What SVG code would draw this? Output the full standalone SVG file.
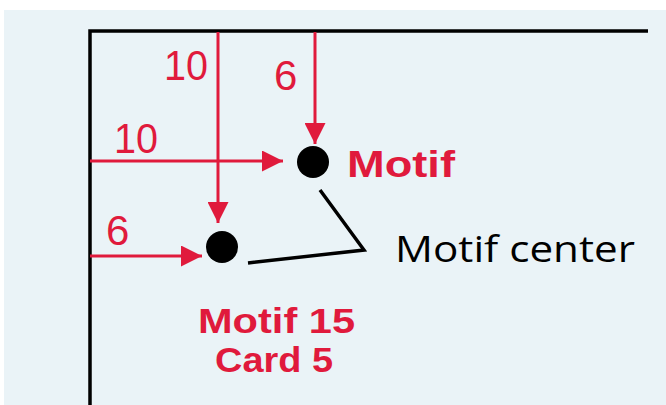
<svg xmlns="http://www.w3.org/2000/svg" width="666" height="405" viewBox="0 0 666 405">
<defs>
<style>
.red{stroke:#e01a3c;stroke-width:3;fill:none}
.blk{stroke:#000;stroke-width:3.5;fill:none}
.num{font-family:"Liberation Sans",Arial,sans-serif;font-size:42px;fill:#e01a3c}
.lab{font-family:"Liberation Sans",Arial,sans-serif;font-size:37px;font-weight:bold;fill:#e01a3c}
.lab2{font-family:"Open Sans","Liberation Sans",Arial,sans-serif;font-size:36px;font-weight:500;fill:#000}
.sm{font-size:35px}
</style>
<marker id="ah" viewBox="0 0 10 10" refX="10" refY="5" markerWidth="7" markerHeight="7" markerUnits="strokeWidth" orient="auto">
<path d="M0,0 L10,5 L0,10 Z" fill="#e01a3c"/>
</marker>
</defs>
<rect x="0" y="0" width="666" height="405" fill="#ffffff"/>
<rect x="4" y="10" width="662" height="395" fill="#eaf3f7"/>
<g id="frame">
<path class="blk" d="M90,405 V31 H648"/>
</g>
<g id="connectors">
<line class="red" x1="218" y1="32" x2="218" y2="223" marker-end="url(#ah)"/>
<line class="red" x1="315" y1="32" x2="315" y2="144" marker-end="url(#ah)"/>
<line class="red" x1="90" y1="161" x2="283" y2="161" marker-end="url(#ah)"/>
<line class="red" x1="90" y1="256" x2="202" y2="256" marker-end="url(#ah)"/>
<polyline class="blk" points="320,190 364,250 248,263"/>
</g>
<g id="motif">
<circle cx="313" cy="162" r="16" fill="#000"/>
<text class="lab" x="347" y="177" textLength="108" lengthAdjust="spacingAndGlyphs">Motif</text>
</g>
<g id="motif15">
<circle cx="222" cy="247" r="16" fill="#000"/>
<text class="lab sm" x="198" y="333" textLength="157" lengthAdjust="spacingAndGlyphs">Motif 15</text>
<text class="lab sm" x="215" y="372" textLength="118" lengthAdjust="spacingAndGlyphs">Card 5</text>
</g>
<g id="center-label">
<text class="lab2" x="395" y="262" textLength="240" lengthAdjust="spacingAndGlyphs">Motif center</text>
</g>
<g id="labels">
<text class="num" x="164" y="80" textLength="44" lengthAdjust="spacingAndGlyphs">10</text>
<text class="num" x="274" y="90">6</text>
<text class="num" x="114" y="153" textLength="44" lengthAdjust="spacingAndGlyphs">10</text>
<text class="num" x="106" y="245">6</text>
</g>
</svg>
